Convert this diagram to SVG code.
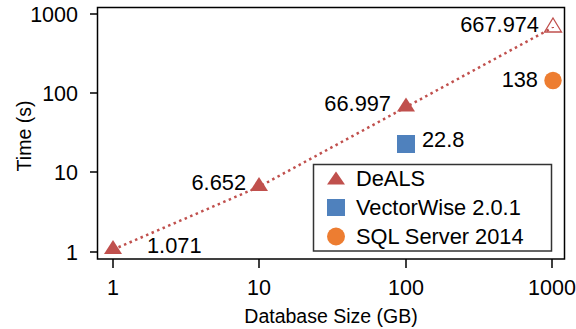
<svg xmlns="http://www.w3.org/2000/svg" width="576" height="329" viewBox="0 0 576 329">
<style>
text{font-family:"Liberation Sans",Arial,sans-serif;fill:#000}
.tick{font-size:21.5px}
.lab{font-size:21.8px}
.title{font-size:19.5px}
.ax{stroke:#000;stroke-width:1.5;fill:none}
.deals{fill:#c0504d}
.vw{fill:#4f81bd}
.sql{fill:#ed7d31}
</style>
<rect width="576" height="329" fill="#fff"/>
<g id="axes">
<rect class="ax" x="97.5" y="7.5" width="467" height="251.5"/>
<path class="ax" d="M90 14H97.5M90 93H97.5M90 172H97.5M90 252H97.5M113 259V268M259 259V268M406 259V268M552 259V268"/>
<g class="tick">
<text x="78" y="21.5" text-anchor="end">1000</text>
<text x="78" y="100.5" text-anchor="end">100</text>
<text x="78" y="179.5" text-anchor="end">10</text>
<text x="78" y="259.5" text-anchor="end">1</text>
<text x="113" y="295" text-anchor="middle">1</text>
<text x="259" y="295" text-anchor="middle">10</text>
<text x="406" y="295" text-anchor="middle">100</text>
<text x="552" y="295" text-anchor="middle">1000</text>
</g>
<text class="title" x="331" y="323" text-anchor="middle">Database Size (GB)</text>
<text class="title" transform="translate(31 136) rotate(-90)" text-anchor="middle">Time (s)</text>
</g>
<g id="connectors">
<polyline points="113,249.6 259,186.8 406,107.1 552,27.9" fill="none" stroke="#c0504d" stroke-width="2.5" stroke-dasharray="2.5 3.5"/>
</g>
<g id="deals-1">
<polygon class="deals" points="113,240 122,254 104,254"/>
<text class="lab" x="147" y="253">1.071</text>
</g>
<g id="deals-10">
<polygon class="deals" points="259,177 268,191 250,191"/>
<text class="lab" x="246" y="190" text-anchor="end">6.652</text>
</g>
<g id="deals-100">
<polygon class="deals" points="406,97.5 415,111.5 397,111.5"/>
<text class="lab" x="391" y="111" text-anchor="end">66.997</text>
</g>
<g id="deals-1000">
<polygon points="553,18 561.5,32 544.5,32" fill="none" stroke="#c0504d" stroke-width="1.3"/>
<line x1="552" y1="27.5" x2="554" y2="27.5" stroke="#c0504d" stroke-width="1"/>
<text class="lab" x="539" y="32" text-anchor="end">667.974</text>
</g>
<g id="vectorwise-100">
<rect class="vw" x="397" y="135" width="18" height="18"/>
<text class="lab" x="422" y="147">22.8</text>
</g>
<g id="sql-1000">
<circle class="sql" cx="553" cy="80.5" r="8.7"/>
<text class="lab" x="538" y="87" text-anchor="end">138</text>
</g>
<g id="legend">
<rect x="313.5" y="164.5" width="238" height="86.5" fill="#fff" stroke="#333" stroke-width="1.5"/>
<polygon class="deals" points="336,171.5 345,184.5 327,184.5"/>
<rect class="vw" x="327" y="199" width="18" height="17"/>
<circle class="sql" cx="336" cy="236.5" r="9"/>
<text class="lab" x="356" y="186">DeALS</text>
<text class="lab" x="356" y="215">VectorWise 2.0.1</text>
<text class="lab" x="356" y="244">SQL Server 2014</text>
</g>
</svg>
